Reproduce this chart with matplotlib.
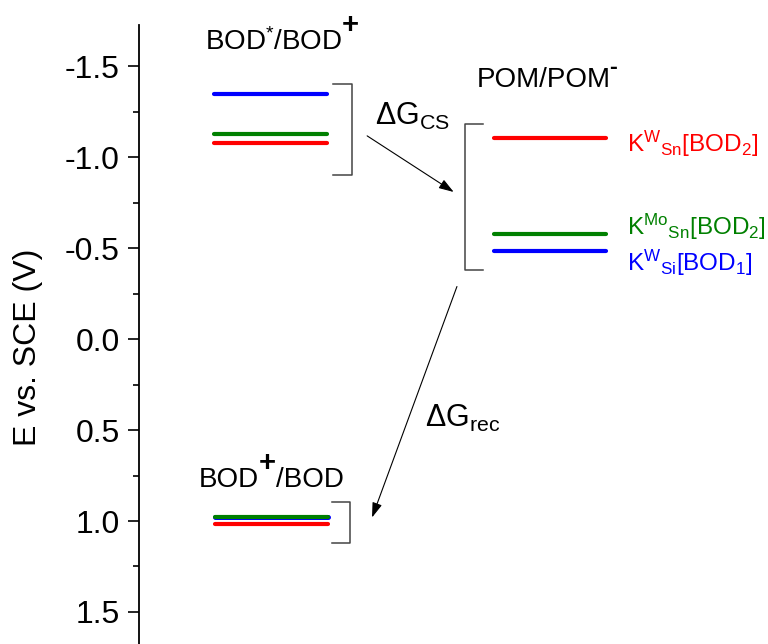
import matplotlib
matplotlib.use("Agg")
import matplotlib.pyplot as plt

# energy levels (V vs. SCE), one per compound
compounds = ["KW_Sn[BOD2]", "KMo_Sn[BOD2]", "KW_Si[BOD1]"]
level_colors = ["#ff0000", "#008000", "#0000ff"]
excited_levels = [-1.075, -1.127, -1.347]   # BOD*/BOD+
pom_levels = [-1.107, -0.575, -0.483]       # POM/POM-
ground_levels = [1.019, 0.978, 0.978]       # BOD+/BOD

compound_labels = [r"K$^{W}{}_{Sn}$[BOD$_{2}$]",
                   r"K$^{Mo}{}_{Sn}$[BOD$_{2}$]",
                   r"K$^{W}{}_{Si}$[BOD$_{1}$]"]
label_y = [-1.027, -0.573, -0.375]

y_ticks = [-1.5, -1.0, -0.5, 0.0, 0.5, 1.0, 1.5]

plt.rcParams['font.family'] = ['Liberation Sans', 'DejaVu Sans']
plt.rcParams['mathtext.fontset'] = 'custom'
plt.rcParams['mathtext.rm'] = 'Liberation Sans'
plt.rcParams['mathtext.it'] = 'Liberation Sans'
plt.rcParams['mathtext.bf'] = 'Liberation Sans:bold'

fig = plt.figure(figsize=(7.68, 6.44), dpi=100)
ax = fig.add_axes([139 / 768, 0.0, 1 - 139 / 768, 1 - 25 / 644])
ax.set_xlim(0, 1)
ax.set_ylim(1.676, -1.726)

# horizontal level bars, drawn so the green bar sits on top of the blue one
order = [2, 0, 1]
for i in order:
    lw = 3.6 if i == 2 else 3.0
    ax.plot([0.12, 0.299], [excited_levels[i]] * 2, color=level_colors[i], lw=3.0,
            solid_capstyle='round', zorder=3)
    ax.plot([0.565, 0.742], [pom_levels[i]] * 2, color=level_colors[i], lw=3.0,
            solid_capstyle='round', zorder=3)
    ax.plot([0.121, 0.300], [ground_levels[i]] * 2, color=level_colors[i], lw=lw,
            solid_capstyle='round', zorder=3)

# brackets around each group of levels
bracket = dict(color='#444444', lw=1.1)
ax.plot([0.308, 0.339, 0.339, 0.308], [-1.401, -1.401, -0.904, -0.904], **bracket)
ax.plot([0.547, 0.519, 0.519, 0.547], [-1.184, -1.184, -0.380, -0.380], **bracket)
ax.plot([0.307, 0.336, 0.336, 0.307], [0.895, 0.895, 1.12, 1.12], **bracket)

# charge separation and recombination arrows
arrow = dict(arrowstyle='-|>,head_length=0.9,head_width=0.3', color='black', lw=0.8)
ax.annotate("", xy=(0.504, -0.800), xytext=(0.359, -1.125), arrowprops=arrow)
ax.annotate("", xy=(0.369, 0.995), xytext=(0.507, -0.303), arrowprops=arrow)

# couple labels; the charges are separate texts hung off the label
t1 = ax.text(0.105, -1.588, r"BOD$^{*}$/BOD", fontsize=20, va='baseline')
ax.annotate("+", xy=(1.0, 0.62), xycoords=t1, fontsize=21, fontweight='bold',
            ha='left', va='bottom')
t4 = ax.text(0.537, -1.386, "POM/POM", fontsize=20, va='baseline')
ax.annotate("-", xy=(0.99, 0.55), xycoords=t4, fontsize=17, fontweight='bold',
            ha='left', va='bottom')
ax.text(0.375, -1.175, r"$\Delta$G$_{CS}$", fontsize=22, va='baseline')
ax.text(0.455, 0.482, r"$\Delta$G$_{rec}$", fontsize=22, va='baseline')
t2 = ax.text(0.095, 0.813, "BOD", fontsize=20, va='baseline')
t3 = ax.annotate("+", xy=(1.0, 0.62), xycoords=t2, fontsize=21, fontweight='bold',
                 ha='left', va='bottom')
ax.annotate("/BOD", xy=(1.0, 0.0), xycoords=(t3, t2), fontsize=20,
            ha='left', va='bottom')

for lab, y, c in zip(compound_labels, label_y, level_colors):
    ax.text(0.776, y, lab, color=c, fontsize=17.5, va='baseline')

# only the left axis is shown
for side in ['top', 'right', 'bottom']:
    ax.spines[side].set_visible(False)
ax.spines['left'].set_linewidth(1.3)
ax.set_xticks([])
ax.set_yticks(y_ticks)
ax.set_yticklabels(["-1.5", "-1.0", "-0.5", "0.0", "0.5", "1.0", "1.5"])
ax.set_yticks([-1.25, -0.75, -0.25, 0.25, 0.75, 1.25], minor=True)
ax.tick_params(axis='y', which='major', length=8, width=1.2, labelsize=23, pad=6)
ax.tick_params(axis='y', which='minor', length=4.5, width=1.2)

fig.text(28 / 768, 1 - 347 / 644, "E vs. SCE (V)", rotation=90, fontsize=23,
         ha='center', va='center')

fig.savefig("out.png", dpi=100)
